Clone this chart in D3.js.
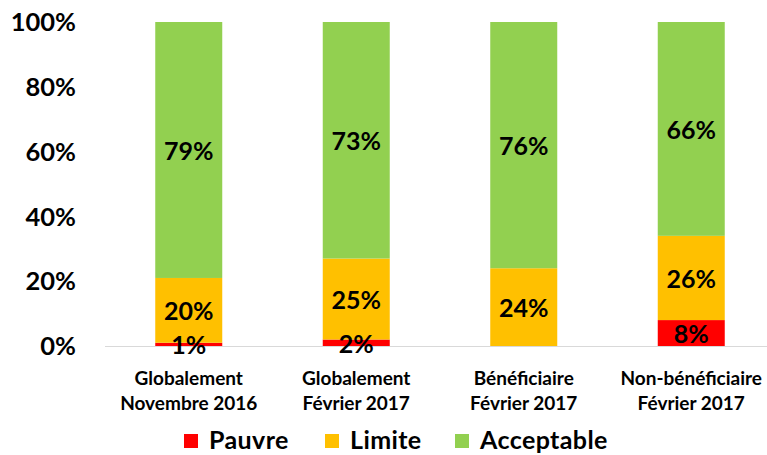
<!DOCTYPE html>
<html><head><meta charset="utf-8">
<script src="https://cdn.jsdelivr.net/npm/d3@7"></script>
<style>body{margin:0;background:#fff}svg{display:block}text{font-family:Lato,"Open Sans",sans-serif;font-weight:bold;fill:#000}</style>
</head><body>
<svg id="c" width="767" height="455"></svg>
<script>
const categories = [["Globalement","Novembre 2016"],["Globalement","Février 2017"],["Bénéficiaire","Février 2017"],["Non-bénéficiaire","Février 2017"]];
const seriesNames = ["Pauvre","Limite","Acceptable"];
const pauvre = [1,2,0,8];
const limite = [20,25,24,26];
const acceptable = [79,73,76,66];
const yTicks = [0,20,40,60,80,100];
const colors = ["#FF0000","#FFC000","#92D050"];

const svg = d3.select("#c");
const x = d3.scaleBand().domain(d3.range(categories.length)).range([105,775]).paddingInner(0.6).paddingOuter(0.3);
const y = d3.scaleLinear().domain([0,100]).range([346,22]);

const rows = categories.map((c,i)=>({i, Pauvre:pauvre[i], Limite:limite[i], Acceptable:acceptable[i]}));
const stack = d3.stack().keys(seriesNames)(rows);

svg.append("g").selectAll("text").data(yTicks).join("text")
  .attr("x",76).attr("y",d=>y(d)).attr("dy","0.36em").attr("text-anchor","end")
  .style("font-size","25.5px").text(d=>d+"%");

svg.append("line").attr("x1",105).attr("x2",767).attr("y1",y(0)+0.5).attr("y2",y(0)+0.5).attr("stroke","#d9d9d9").attr("stroke-width",1);

stack.forEach((s,k)=>{
  svg.append("g").selectAll("rect").data(s.filter(d=>d[1]-d[0]>0)).join("rect")
    .attr("x",d=>x(d.data.i)).attr("width",x.bandwidth())
    .attr("y",d=>y(d[1])).attr("height",d=>y(d[0])-y(d[1]))
    .attr("fill",colors[k]);
});
stack.forEach((s,k)=>{
  svg.append("g").selectAll("text").data(s.filter(d=>d[1]-d[0]>0)).join("text")
    .attr("x",d=>x(d.data.i)+x.bandwidth()/2)
    .attr("y",d=>y((d[0]+d[1])/2)+1).attr("dy","0.36em")
    .attr("text-anchor","middle").style("font-size","25px")
    .text(d=>(d[1]-d[0])+"%");
});

const cl = svg.append("g").selectAll("text").data(categories).join("text")
  .attr("text-anchor","middle").style("font-size","19px")
  .attr("transform",(d,i)=>`translate(${x(i)+x.bandwidth()/2},0)`);
cl.each(function(d){
  d3.select(this).selectAll("tspan").data(d).join("tspan")
    .attr("x",0).attr("y",(t,j)=>385+j*25).text(t=>t);
});

const legX = [184,325,455];
const lg = svg.append("g").selectAll("g").data(seriesNames).join("g")
  .attr("transform",(d,i)=>`translate(${legX[i]},0)`);
lg.append("rect").attr("x",0).attr("y",434).attr("width",14).attr("height",14).attr("fill",(d,i)=>colors[i]);
lg.append("text").attr("x",25).attr("y",440).attr("dy","0.36em").style("font-size","25px").style("letter-spacing","0.4px").text(d=>d);
</script>
</body></html>
